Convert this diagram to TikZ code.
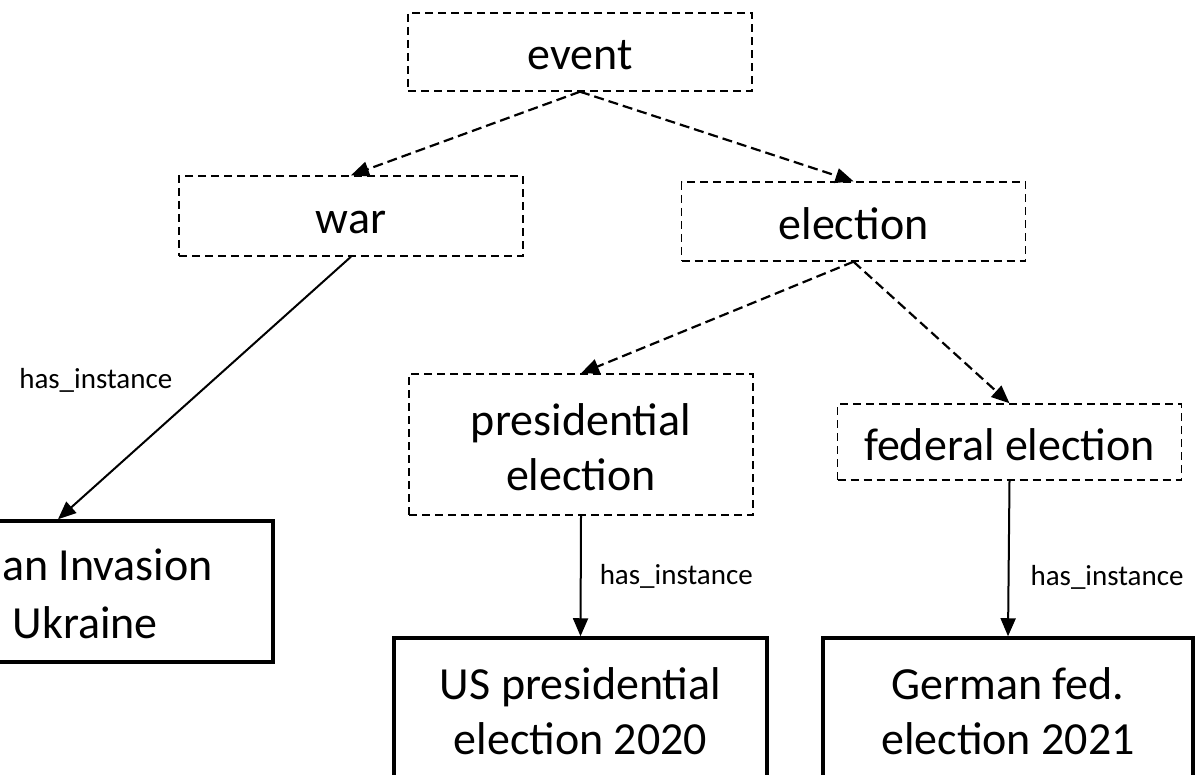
\documentclass[tikz,border=0pt]{standalone}
\usepackage{fontspec}
\setmainfont{Carlito}
\usetikzlibrary{arrows.meta}
\begin{document}
\begin{tikzpicture}[x=1pt,y=-1pt,
  bigtext/.style={font=\fontsize{46}{55}\selectfont, text height=36pt, text depth=0pt},
  twolines/.style={text height=91pt, text depth=0pt},
  concept/.style={draw, line width=1.4pt, dash pattern=on 8pt off 5pt,
    rectangle, inner sep=0pt, align=center, bigtext, minimum width=344pt},
  instance/.style={draw, line width=3.5pt, rectangle, inner sep=0pt,
    align=center, bigtext, minimum width=373pt, minimum height=141pt},
  isa/.style={line width=2.2pt, dash pattern=on 10pt off 5pt,
    -{Triangle[length=18pt,width=15pt]}},
  hasinst/.style={line width=2pt, -{Triangle[length=18pt,width=15pt]}},
  lbl/.style={font=\fontsize{29}{34}\selectfont, inner sep=0pt}
]
\clip (0,0) rectangle (1198,775);
\fill[white] (0,0) rectangle (1198,775);

% class hierarchy
\node[concept, minimum height=78pt]  (event)    at (580,52)      {event};
\node[concept, minimum height=80pt]  (war)      at (351,216)     {war};
\node[concept, minimum height=79pt]  (election) at (853.5,221.5) {election};
\node[concept, twolines, minimum height=141pt] (pres) at (581,444.5) {presidential\\election};
\node[concept, minimum height=76pt]  (fed)      at (1009.5,442)  {federal election};

% instances
\node[instance, minimum width=430pt] (inv) at (58,591.5) {};
\node[font=\fontsize{46}{55}\selectfont, inner sep=0pt, anchor=base east] (invA) at (213,580) {an Invasion};
\node[font=\fontsize{46}{55}\selectfont, inner sep=0pt, anchor=base east] (invB) at (158,638) {Ukraine};
\node[instance, twolines] (us)  at (580.5,708.5) {US presidential\\election 2020};
\node[instance, twolines, minimum width=370pt] (ger) at (1008,708.5) {German fed.\\election 2021};

% subclass links
\draw[isa] (event.south) -- (war.north);
\draw[isa] (event.south) -- (election.north);
\draw[isa] (election.south) -- (pres.north);
\draw[isa] (election.south) -- (fed.north);

% instance links
\draw[hasinst] (war.south) -- node[lbl, pos=0.47, anchor=east, xshift=-40pt] {has\_instance} (inv.north);
\draw[hasinst] (pres.south) -- node[lbl, pos=0.5, anchor=west, xshift=18pt] {has\_instance} (us.north);
\draw[hasinst] (fed.south) -- node[lbl, pos=0.62, anchor=west, xshift=21pt] {has\_instance} (ger.north);
\end{tikzpicture}
\end{document}
